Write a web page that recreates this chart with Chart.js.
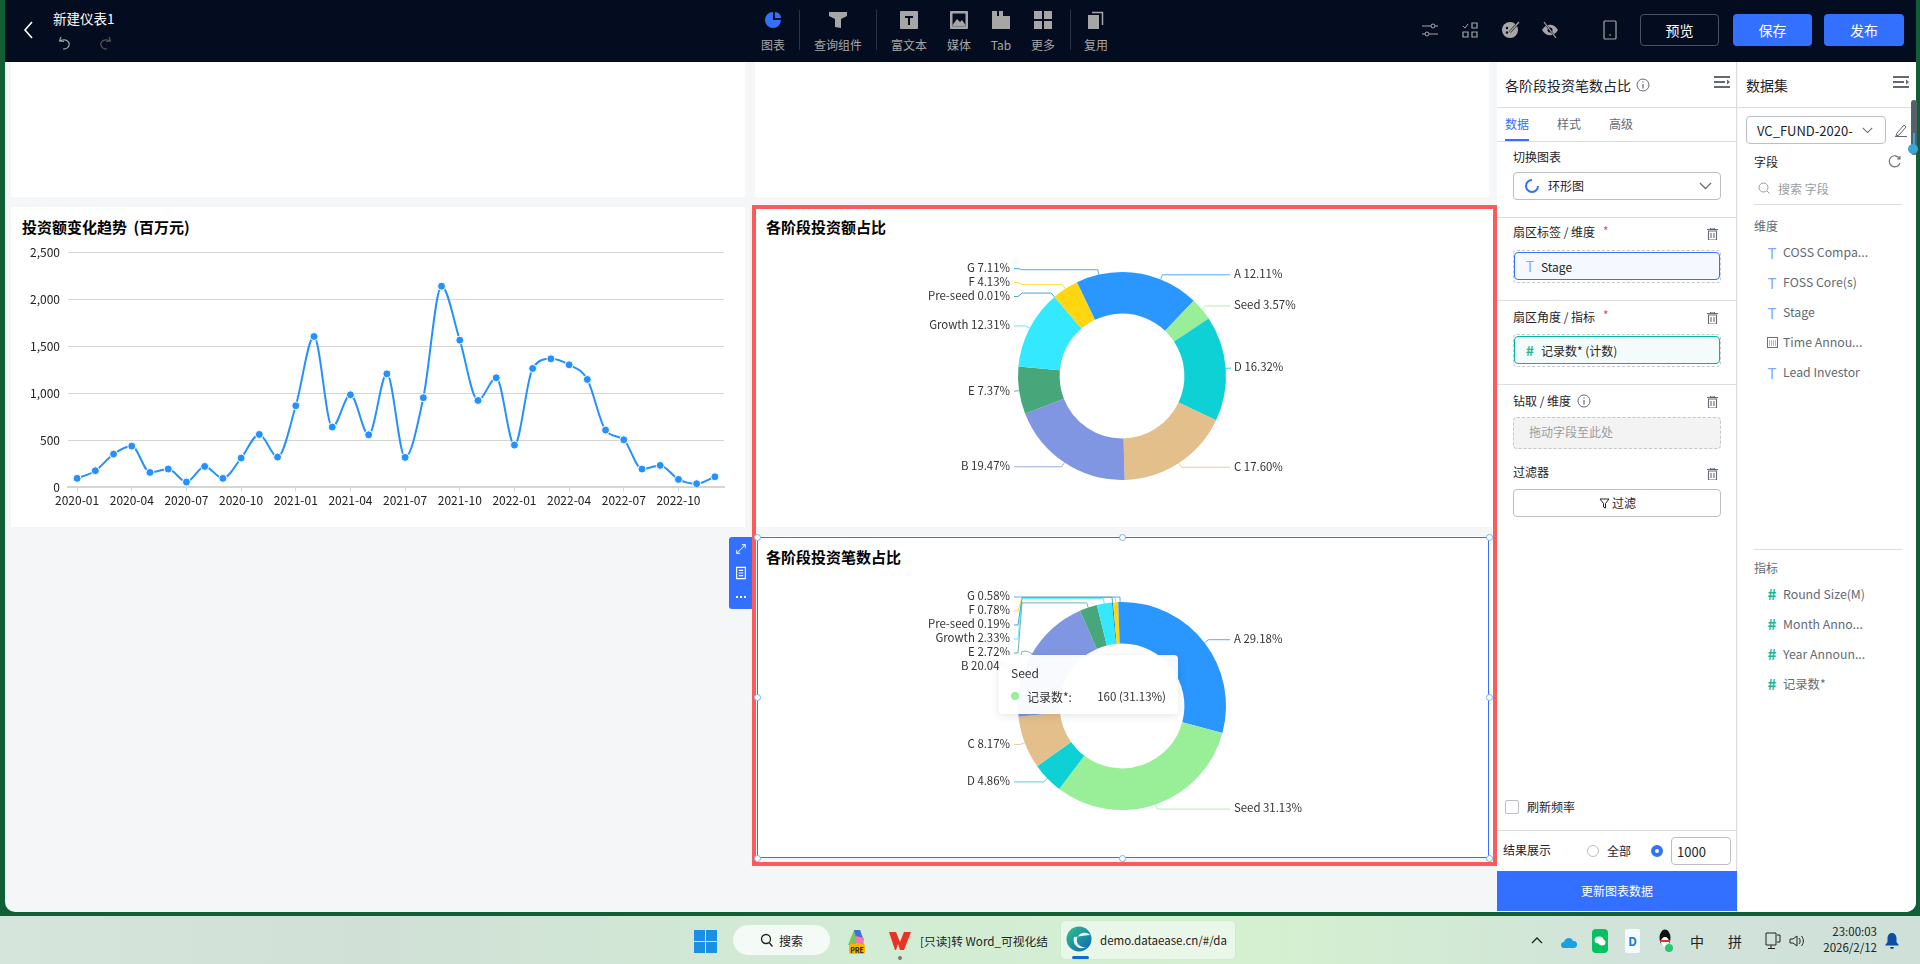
<!DOCTYPE html>
<html lang="zh-CN">
<head>
<meta charset="utf-8">
<title>新建仪表1</title>
<script src="https://cdn.jsdelivr.net/npm/chart.js@4"></script>
<style>
    html, body { margin: 0; padding: 0; background: #116035; }
    body { width: 1920px; height: 964px; overflow: hidden; position: relative; font-family: "Noto Sans CJK SC", "Noto Sans", sans-serif; color: #1f2329; }
    #page { position: absolute; left: 0; top: 0; width: 1920px; height: 964px; overflow: hidden; }
    #page div, #page span, #page svg { position: absolute; box-sizing: border-box; }
    #page span { white-space: nowrap; line-height: 1; }
    .holder canvas { display: block; }
</style>
</head>
<body>
<div id="page"></div>
<script>
// Data
const months = ['2020-01','2020-02','2020-03','2020-04','2020-05','2020-06','2020-07','2020-08','2020-09','2020-10','2020-11','2020-12',
    '2021-01','2021-02','2021-03','2021-04','2021-05','2021-06','2021-07','2021-08','2021-09','2021-10','2021-11','2021-12',
    '2022-01','2022-02','2022-03','2022-04','2022-05','2022-06','2022-07','2022-08','2022-09','2022-10','2022-11','2022-12'];
const investment = [96,177,354,439,159,195,57,223,96,312,563,322,
    868,1604,641,984,559,1207,319,953,2139,1565,924,1165,
    450,1264,1367,1303,1147,609,506,195,234,85,39,113];
const stages = ['A','Seed','D','C','B','E','Growth','Pre-seed','F','G'];
const amountShare = [12.11,3.57,16.32,17.60,19.47,7.37,12.31,0.01,4.13,7.11];
const dealCount = [150,160,25,42,103,14,12,1,4,3];
const stageColors = ['#2a96ff','#98ef98','#0ed1d6','#e3bf8b','#8096e2','#47a77a','#33e8ff','#1491dd','#ffd60f','#2a96ff'];
const lineColor = '#2491ff';

const page = document.getElementById('page');
Chart.defaults.font.family = '"Noto Sans CJK SC", "Noto Sans", sans-serif';
Chart.defaults.animation = false;

// Small layout helpers
const box = (x, y, w, h, style = '') => {
    const el = document.createElement('div');
    el.style.cssText = `left:${x}px;top:${y}px;width:${w}px;height:${h}px;${style}`;
    page.appendChild(el);
    return el;
};
const put = (x, y, text, style = '', anchor = 'left') => {
    const el = document.createElement('span');
    const shift = anchor === 'center' ? '-50%' : anchor === 'right' ? '-100%' : '0';
    el.style.cssText = `left:${x}px;top:${y}px;transform:translate(${shift},-50%);${style}`;
    el.textContent = text;
    page.appendChild(el);
    return el;
};
const icon = (cx, cy, w, h, inner, view = '0 0 16 16') => {
    const wrap = document.createElement('div');
    wrap.style.cssText = `left:${cx - w / 2}px;top:${cy - h / 2}px;width:${w}px;height:${h}px;`;
    wrap.innerHTML = `<svg xmlns="http://www.w3.org/2000/svg" width="${w}" height="${h}" viewBox="${view}" style="left:0;top:0">${inner}</svg>`;
    page.appendChild(wrap);
};

// Window
box(5, 0, 1911, 912, 'background:#f5f6f7;border-radius:0 0 10px 10px;overflow:hidden');

// Cards
box(11, 62, 734, 135, 'background:#fff');
box(755, 62, 734, 135, 'background:#fff');
box(11, 207, 734, 320, 'background:#fff');
box(756, 207, 737, 320, 'background:#fff');
box(756, 536, 737, 322, 'background:#fff');

const titleStyle = 'font-size:15px;font-weight:700;color:#000';
put(22, 225.500, '投资额变化趋势 (百万元)', titleStyle + ';word-spacing:3px');
put(766, 225.500, '各阶段投资额占比', titleStyle);
put(766, 555.500, '各阶段投资笔数占比', titleStyle);

// Canvases
const holder = (x, y, w, h) => {
    const el = box(x, y, w, h);
    el.className = 'holder';
    const canvas = document.createElement('canvas');
    el.appendChild(canvas);
    return canvas;
};

new Chart(holder(10, 236.600, 735, 290.400), {
    type: 'line',
    data: {
        labels: months,
        datasets: [{
            data: investment,
            borderColor: lineColor,
            backgroundColor: lineColor,
            borderWidth: 2,
            cubicInterpolationMode: 'monotone',
            pointRadius: 4,
            pointBorderColor: '#fff',
            pointBorderWidth: 1,
            pointBackgroundColor: lineColor
        }]
    },
    options: {
        responsive: true, maintainAspectRatio: false, events: [],
        layout: { padding: { top: 11.3, right: 21, left: 0, bottom: 0 } },
        plugins: { legend: { display: false }, tooltip: { enabled: false } },
        scales: {
            x: {
                offset: true,
                afterBuildTicks: (scale) => { scale.ticks = scale.ticks.filter((t, i) => i % 3 === 0); },
                afterFit: (scale) => { scale.height = 40; },
                grid: { drawOnChartArea: false, offset: false, tickLength: 4, color: '#d5d5d5' },
                border: { color: '#d5d5d5', width: 2 },
                ticks: { autoSkip: false, maxRotation: 0, color: '#222', padding: 2, font: { size: 12 } }
            },
            y: {
                min: 0, max: 2500,
                afterFit: (scale) => { scale.width = 58; },
                grid: { color: '#d5d5d5', drawTicks: false },
                border: { display: false },
                ticks: { stepSize: 500, color: '#222', padding: 8, font: { size: 12 }, callback: (v) => v.toLocaleString('en-US') }
            }
        }
    }
});

// Outside labels with elbow leaders, placed from the arcs the chart has laid out
const LABEL_STEP = 14;
const spreadLabels = (items, minY) => {
    items.sort((a, b) => a.y - b.y);
    let blocks = items.map((it) => ({ list: [it], top: it.y }));
    let merged = true;
    while (merged) {
        merged = false;
        for (let i = 0; i < blocks.length - 1; i++) {
            if (blocks[i].top + blocks[i].list.length * LABEL_STEP > blocks[i + 1].top) {
                const list = blocks[i].list.concat(blocks[i + 1].list);
                const top = list.reduce((s, it, k) => s + it.y - k * LABEL_STEP, 0) / list.length;
                blocks.splice(i, 2, { list, top: Math.max(minY, top) });
                merged = true;
                break;
            }
        }
    }
    blocks.forEach((b) => b.list.forEach((it, k) => { it.labelY = b.top + k * LABEL_STEP; }));
};

const donutLabels = {
    id: 'donutLabels',
    afterDatasetsDraw(chart) {
        const { ctx } = chart;
        const arcs = chart.getDatasetMeta(0).data;
        const values = chart.data.datasets[0].data;
        const total = values.reduce((a, b) => a + b, 0);
        const items = arcs.map((arc, i) => {
            const mid = (arc.startAngle + arc.endAngle) / 2;
            const c = Math.cos(mid), s = Math.sin(mid);
            const R = arc.outerRadius;
            return {
                i, right: c >= 0, cx: arc.x, cy: arc.y,
                ax: arc.x + R * c, ay: arc.y + R * s,
                x: arc.x + (R + 5) * c, y: arc.y + (R + 5) * s,
                minY: arc.y - R - 5, side: R
            };
        });
        spreadLabels(items.filter((it) => it.right), items[0].minY);
        spreadLabels(items.filter((it) => !it.right), items[0].minY);
        ctx.save();
        ctx.font = '11.4px "Noto Sans CJK SC"';
        ctx.textBaseline = 'middle';
        items.forEach((it) => {
            const dir = it.right ? 1 : -1;
            ctx.beginPath();
            ctx.moveTo(it.ax, it.ay);
            ctx.lineTo(it.x, it.y);
            if (dir * (it.x - it.cx) < it.side - 4) {
                ctx.lineTo(it.cx + dir * (it.side - 4), it.y);
                ctx.lineTo(it.cx + dir * it.side, it.labelY);
            }
            ctx.lineTo(it.cx + dir * (it.side + 4), it.labelY);
            ctx.globalAlpha = 0.8;
            ctx.strokeStyle = stageColors[it.i];
            ctx.lineWidth = 1;
            ctx.stroke();
            ctx.globalAlpha = 1;
            const pct = (values[it.i] / total * 100).toFixed(2);
            ctx.fillStyle = '#333';
            ctx.textAlign = it.right ? 'left' : 'right';
            ctx.fillText(`${stages[it.i]} ${pct}%`, it.cx + dir * (it.side + 8), it.labelY - 1);
        });
        ctx.restore();
    }
};

const donut = (canvas, values) => new Chart(canvas, {
    type: 'doughnut',
    data: {
        labels: stages,
        datasets: [{ data: values, backgroundColor: stageColors, borderWidth: 0 }]
    },
    options: {
        responsive: true, maintainAspectRatio: false, events: [],
        radius: 104, cutout: '60%',
        plugins: { legend: { display: false }, tooltip: { enabled: false } }
    },
    plugins: [donutLabels]
});
donut(holder(882, 238, 480, 276), amountShare);
donut(holder(882, 568, 480, 276), dealCount);

// Hover card on the second doughnut
box(999, 655, 179, 59, 'background:rgba(255,255,255,.95);border-radius:4px;box-shadow:0 2px 10px rgba(0,0,0,.1)');
put(1011, 673, stages[1], 'font-size:12px;color:#333');
box(1011, 692, 8, 8, `background:${stageColors[1]};border-radius:50%`);
put(1027, 697, '记录数*:', 'font-size:12px;color:#333');
const seedTotal = dealCount.reduce((a, b) => a + b, 0);
put(1166, 697, `${dealCount[1]} (${(dealCount[1] / seedTotal * 100).toFixed(2)}%)`, 'font-size:11.5px;color:#333', 'right');

// Selection frame
box(757, 537, 732, 321, 'border:1.5px solid #3370ff');
box(752, 205, 745, 661, 'border:4px solid #ff5a5a');
[[757, 537], [1122, 537], [1489, 537], [757, 697], [1489, 697], [757, 858], [1122, 858], [1489, 858]].forEach(([x, y]) => {
    box(x - 3.500, y - 3.500, 7, 7, 'background:#fff;border:1px solid #6fb4f0;border-radius:50%');
});

// Side toolbar of the selected card
box(729, 537, 23, 72, 'background:#3370ff;border-radius:3px 0 0 3px');
icon(740.500, 549, 14, 14, '<path d="M3 13 13 3M9 3h4v4M3 9v4h4" fill="none" stroke="#cfe0ff" stroke-width="1.2"/>');
icon(740.500, 573, 14, 16, '<path d="M3 1.500h10v13H3zM5.500 5h5M5.500 8h5M5.500 11h5" fill="none" stroke="#fff" stroke-width="1.3"/>');
[736, 740, 744].forEach((x) => box(x, 596, 2, 2, 'background:#fff'));

// Top bar
box(5, 0, 1911, 62, 'background:#040d20');
icon(28, 30, 12, 20, '<path d="M10 2 3 10l7 8" fill="none" stroke="#fff" stroke-width="1.6"/>', '0 0 12 20');
put(53, 19, '新建仪表1', 'font-size:13.500px;color:#fff');
icon(66, 43, 16, 16, '<path d="M3 2 1.500 6 6 6.500M2 6c6-3 11 1 8.500 5.500C9.500 13.500 7 14 5 14" fill="none" stroke="#a3a3a3" stroke-width="1.2"/>');
icon(104, 43, 16, 16, '<path d="M13 2l1.500 4L10 6.500M14 6c-6-3-11 1-8.500 5.500C6.500 13.500 9 14 11 14" fill="none" stroke="#555" stroke-width="1.2"/>');

const gray = '#a6a6a6';
icon(773, 20, 18, 18, '<path d="M9 1a8 8 0 1 0 8 8H9z" fill="#3370ff"/><path d="M11 1a6 6 0 0 1 6 6h-6z" fill="#3370ff"/>', '0 0 18 18');
icon(838, 20, 20, 18, `<path d="M1 1h18v4l-6 3v9l-6-1V8L1 5z" fill="${gray}"/>`, '0 0 20 18');
icon(909, 20, 18, 18, `<rect width="18" height="18" rx="1" fill="${gray}"/><path d="M5 5h8v2h-3v7H8V7H5z" fill="#040d20"/>`, '0 0 18 18');
icon(959, 20, 18, 18, `<rect width="18" height="18" rx="1" fill="${gray}"/><path d="M2.500 2.500h13v13h-13z" fill="#040d20"/><path d="M2.500 14 7 8l3 3 2-2 3.500 5v1.500h-13z" fill="${gray}"/>`, '0 0 18 18');
icon(1001, 20, 18, 18, `<path d="M0 0h5v5h2V0h4v5h7v13H0z" fill="${gray}"/>`, '0 0 18 18');
icon(1043, 20, 18, 18, `<path d="M0 0h8v8H0zM10 0h8v8h-8zM0 10h8v8H0zM10 10h8v8h-8z" fill="${gray}"/>`, '0 0 18 18');
icon(1096, 20, 16, 18, `<path d="M0 4h11v14H0z" fill="${gray}"/><path d="M4 1.500h10.500V14" fill="none" stroke="${gray}" stroke-width="1.500"/>`, '0 0 16 18');
[799, 876, 1070].forEach((x) => box(x, 10, 1, 40, 'background:#2b3344'));
[['图表', 773], ['查询组件', 838], ['富文本', 909], ['媒体', 959], ['Tab', 1001], ['更多', 1043], ['复用', 1096]].forEach(([t, x]) => {
    put(x, 45, t, `font-size:12px;color:${gray}`, 'center');
});
icon(1430, 30, 16, 16, `<path d="M0 4h9M13 4h3M0 12h3M7 12h9" stroke="${gray}" fill="none"/><circle cx="11" cy="4" r="2" fill="none" stroke="${gray}"/><circle cx="5" cy="12" r="2" fill="none" stroke="${gray}"/>`);
icon(1470, 30, 16, 16, `<path d="M1 4l2 2 3-4" fill="none" stroke="${gray}"/><path d="M10 1h5v5h-5zM1 10h5v5H1zM10 10h5v5h-5z" fill="none" stroke="${gray}" stroke-width="1.200"/>`);
icon(1511, 30, 18, 18, `<circle cx="8" cy="9" r="8" fill="${gray}"/><circle cx="5" cy="7" r="1.200" fill="#040d20"/><circle cx="5" cy="11.500" r="1.200" fill="#040d20"/><path d="M17 1 8 11" stroke="#040d20" stroke-width="2.500"/><path d="M17 1 8 11" stroke="${gray}" stroke-width="1.200"/>`, '0 0 18 18');
icon(1550, 30, 18, 18, `<path d="M1 9c4-7 12-7 16 0-4 7-12 7-16 0z" fill="${gray}"/><circle cx="9" cy="9" r="2.500" fill="#040d20"/><path d="M3 1l12 16" stroke="#040d20" stroke-width="2"/><path d="M3 1l12 16" stroke="${gray}" stroke-width="1.200"/>`, '0 0 18 18');
icon(1610, 30, 14, 20, `<rect x="1" y="1" width="12" height="18" rx="1" fill="none" stroke="${gray}" stroke-width="1.200"/><path d="M7 14v2" stroke="${gray}"/>`, '0 0 14 20');
box(1640, 14, 79, 32, 'border:1px solid #4a5160;border-radius:4px');
put(1679.500, 30, '预览', 'font-size:14px;color:#fff', 'center');
box(1733, 14, 79, 32, 'background:#3370ff;border-radius:4px');
put(1772.500, 30, '保存', 'font-size:14px;color:#fff', 'center');
box(1824, 14, 80, 32, 'background:#3370ff;border-radius:4px');
put(1864, 30, '发布', 'font-size:14px;color:#fff', 'center');

// Chart settings panel
const ink = '#1f2329', soft = '#646a73', rule = '#dcdcdc';
box(1497, 62, 240, 850, 'background:#fff;border-right:1px solid #dcdcdc');
box(1738, 62, 178, 850, 'background:#fff;border-radius:0 0 10px 0');
box(1497, 107, 419, 1, `background:${rule}`);
const menuIcon = (cx) => icon(cx, 82, 16, 12, `<path d="M0 1h16M0 6h11M0 11h16" stroke="${soft}" stroke-width="2"/><path d="M16 6l-3-2.500v5z" fill="${soft}"/>`, '0 0 16 12');
const trash = (y) => icon(1712, y, 11, 12, `<path d="M0 1.500h11M1.500 3h8v9h-8zM4 5v5M7 5v5M3.500 1.500V0h4v1.500" fill="none" stroke="${soft}" stroke-width="1.100"/>`, '0 0 11 12');
const info = (cx, cy) => icon(cx, cy, 14, 14, `<circle cx="7" cy="7" r="6" fill="none" stroke="${soft}"/><path d="M7 3.500v1M7 6v4.500" stroke="${soft}" stroke-width="1.200"/>`, '0 0 14 14');
put(1505, 85, '各阶段投资笔数占比', `font-size:14px;color:${ink}`);
info(1643, 85);
menuIcon(1722);
put(1746, 85, '数据集', `font-size:14px;color:${ink}`);
menuIcon(1901);
put(1505, 124, '数据', 'font-size:12px;color:#3370ff');
put(1557, 124, '样式', `font-size:12px;color:${soft}`);
put(1609, 124, '高级', `font-size:12px;color:${soft}`);
box(1497, 141, 240, 1, `background:${rule}`);
box(1505, 139, 24, 2, 'background:#3370ff');

put(1513, 157, '切换图表', `font-size:12px;color:${ink}`);
box(1513, 172, 208, 28, 'border:1px solid #bbbfc4;border-radius:4px;background:#fff');
icon(1532, 186, 14, 14, '<path d="M7 1a6 6 0 1 0 6 6" fill="none" stroke="#3370ff" stroke-width="2"/>', '0 0 14 14');
put(1548, 186, '环形图', `font-size:12px;color:${ink}`);
const chevron = (cx, cy, w, color) => icon(cx, cy, w, w / 2 + 1, `<path d="M1 1l6 6 6-6" fill="none" stroke="${color}" stroke-width="1.300"/>`, '0 0 14 8');
chevron(1705, 186, 13, soft);

box(1497, 217, 240, 1, `background:${rule}`);
put(1513, 232, '扇区标签 / 维度', `font-size:12px;color:${ink}`);
put(1603, 231, '*', 'font-size:12px;color:#f54a45');
trash(234);
box(1513, 250, 208, 33, 'border:1px dashed #c4c7cc;border-radius:4px');
box(1514, 252, 206, 28, 'border:1px solid #3370ff;border-radius:4px;background:#f5f8ff');
put(1530, 266, 'T', 'font-size:14px;color:#3370ff;opacity:.6', 'center');
put(1541, 267, 'Stage', `font-size:12px;color:${ink}`);

box(1497, 300, 240, 1, `background:${rule}`);
put(1513, 317, '扇区角度 / 指标', `font-size:12px;color:${ink}`);
put(1603, 315, '*', 'font-size:12px;color:#f54a45');
trash(318);
box(1513, 334, 208, 33, 'border:1px dashed #c4c7cc;border-radius:4px');
box(1514, 336, 206, 28, 'border:1px solid #00b89a;border-radius:4px;background:#f3fcfa');
put(1530, 350, '#', 'font-size:14px;font-weight:700;color:#17b897', 'center');
put(1541, 351, '记录数* (计数)', `font-size:12px;color:${ink}`);

box(1497, 384, 240, 1, `background:${rule}`);
put(1513, 401, '钻取 / 维度', `font-size:12px;color:${ink}`);
info(1584, 401);
trash(402);
box(1513, 417, 208, 32, 'border:1px dashed #c4c7cc;border-radius:4px;background:#f3f3f3');
put(1529, 432, '拖动字段至此处', 'font-size:12px;color:#9a9da1');
put(1513, 472, '过滤器', `font-size:12px;color:${ink}`);
trash(474);
box(1513, 489, 208, 28, 'border:1px solid #bbbfc4;border-radius:4px;background:#fff');
icon(1604, 503, 11, 11, `<path d="M1 1h9L6.500 5.500V10L4.500 9V5.500z" fill="none" stroke="${ink}"/>`, '0 0 11 11');
put(1612, 503, '过滤', `font-size:12px;color:${ink}`);

box(1505, 800, 14, 14, 'border:1px solid #bbbfc4;border-radius:2px;background:#fff');
put(1527, 807, '刷新频率', `font-size:12px;color:${ink}`);
box(1497, 830, 240, 1, `background:${rule}`);
put(1503, 850, '结果展示', `font-size:12px;color:${ink}`);
box(1587, 845, 12, 12, 'border:1px solid #bbbfc4;border-radius:50%;background:#fff');
put(1607, 851, '全部', `font-size:12px;color:${ink}`);
box(1651, 845, 12, 12, 'border:4px solid #3370ff;border-radius:50%;background:#fff');
box(1671, 837, 60, 28, 'border:1px solid #bbbfc4;border-radius:4px;background:#fff');
put(1677, 851, '1000', `font-size:13px;color:${ink}`);
box(1497, 871, 240, 40, 'background:#3370ff');
put(1617, 891, '更新图表数据', 'font-size:12px;color:#fff', 'center');

// Dataset panel
box(1746, 116, 140, 28, 'border:1px solid #bbbfc4;border-radius:4px;background:#fff');
put(1757, 130, 'VC_FUND-2020-', `font-size:13px;color:${ink}`);
chevron(1867, 130, 11, soft);
icon(1901, 130, 14, 14, `<path d="M3 10l7-8 2 2-7 8-3 1zM1 13.500h12" fill="none" stroke="${soft}"/>`, '0 0 14 14');
put(1754, 162, '字段', `font-size:12px;color:${ink}`);
icon(1894, 161, 13, 13, `<path d="M11.500 3.500A5.500 5.500 0 1 0 12 8M12 1v3H9" fill="none" stroke="${soft}" stroke-width="1.100"/>`, '0 0 13 13');
icon(1764, 188, 12, 12, '<circle cx="5.500" cy="5.500" r="4.500" fill="none" stroke="#9a9da1"/><path d="M9 9l2.500 2.500" stroke="#9a9da1"/>', '0 0 12 12');
put(1778, 189, '搜索 字段', 'font-size:12px;color:#9a9da1');
box(1754, 204, 148, 1, `background:${rule}`);
put(1754, 226, '维度', `font-size:12px;color:${soft}`);
const dimensionFields = ['COSS Compa...', 'FOSS Core(s)', 'Stage', 'Time Annou...', 'Lead Investor'];
dimensionFields.forEach((name, i) => {
    const y = 252 + i * 30;
    if (i === 3) {
        icon(1772, y, 11, 11, '<rect x=".5" y=".5" width="10" height="10" fill="none" stroke="#3370ff"/><path d="M2 4h7M2 6h7M2 8h7" stroke="#3370ff" stroke-dasharray="1 1"/>', '0 0 11 11');
    } else {
        put(1772, y, 'T', 'font-size:15px;color:#3370ff;opacity:.6', 'center');
    }
    put(1783, y, name, `font-size:12.300px;color:${soft}`);
});
box(1754, 549, 148, 1, `background:${rule}`);
put(1754, 568, '指标', `font-size:12px;color:${soft}`);
const measureFields = ['Round Size(M)', 'Month Anno...', 'Year Announ...', '记录数*'];
measureFields.forEach((name, i) => {
    const y = 594 + i * 30;
    put(1772, y - 1, '#', 'font-size:15px;font-weight:700;color:#17b897', 'center');
    put(1783, y, name, `font-size:12.300px;color:${soft}`);
});

// Scroll marker at the window edge
box(1911, 100, 6, 55, 'background:#56606b;border-radius:3px');
box(1912.500, 133, 2, 15, 'background:#3aa6d8');
box(1908, 144, 10, 10, 'background:#3aa6d8;border-radius:50%');

// Task bar
box(0, 916, 1920, 48, 'background:linear-gradient(90deg,#d6e5dc 0%,#d0e0d6 20%,#d2ecd5 45%,#d4f0d0 66%,#d1e3da 85%,#cfe0d8 100%)');
icon(705.500, 941, 23, 23, '<path d="M0 0h11v11H0zM12 0h11v11H12zM0 12h11v11H0zM12 12h11v11H12z" fill="#1a8fe3"/>', '0 0 23 23');
box(733, 925, 97, 30, 'background:#f4faf5;border-radius:15px');
icon(767, 940, 14, 14, '<circle cx="6" cy="6" r="4.500" fill="none" stroke="#222" stroke-width="1.300"/><path d="M9 9.500l3.500 4" stroke="#222" stroke-width="1.300"/>', '0 0 14 14');
put(779, 941, '搜索', 'font-size:12px;color:#222');
icon(856, 938, 22, 22, '<path d="M3 18 9 3h6l4 15-6-2-4 2z" fill="#7ac65c"/><path d="M9 3h6l4 11-8-4z" fill="#3f6fe0"/><path d="M11 9l8 2-1 7-7-2z" fill="#ee7bb5"/>', '0 0 22 22');
box(849, 944, 16, 10, 'background:#f7b500;border-radius:2px');
put(857, 949.500, 'PRE', 'font-size:7px;font-weight:700;color:#222', 'center');
icon(900, 941, 24, 22, '<path d="M1 2h7l4 10 4-10h7l-7 18h-4l-2-6-2 6H7z" fill="#e93224"/>', '0 0 24 22');
box(898, 956, 4, 4, 'background:#777;border-radius:50%');
put(920, 941, '[只读]转 Word_可视化结', 'font-size:11.700px;color:#222');
box(1061, 921, 174, 38, 'background:rgba(255,255,255,.5);border-radius:4px;box-shadow:0 0 1px rgba(0,0,0,.2)');
icon(1079, 939, 26, 26, '<defs><linearGradient id="edge" x1="0" y1="0" x2="1" y2="1"><stop offset="0" stop-color="#33c27f"/><stop offset="1" stop-color="#0b63c5"/></linearGradient></defs><circle cx="13" cy="13" r="12.500" fill="url(#edge)"/><path d="M24 9C21 5 12 6 11 13c-1 5 4 9 9 8-8 4-14-3-12-10" fill="#e6f3e8"/>', '0 0 26 26');
box(1072, 956, 17, 3, 'background:#0b6cd4;border-radius:2px');
put(1100, 941, 'demo.dataease.cn/#/da', 'font-size:11.500px;color:#222');
icon(1537, 940, 12, 8, '<path d="M1 7l5-5 5 5" fill="none" stroke="#222" stroke-width="1.300"/>', '0 0 12 8');
icon(1569, 942, 16, 12, '<path d="M3 12a3 3 0 0 1 0-6c1-4 7-6 9-1a3.500 3.500 0 0 1 1 7z" fill="#1b9fe0"/>', '0 0 16 12');
box(1592, 929, 16, 24, 'background:#07c160;border-radius:4px');
icon(1600, 941, 12, 10, '<ellipse cx="5" cy="4" rx="4.500" ry="3.500" fill="#fff"/><ellipse cx="8" cy="6.500" rx="3.500" ry="3" fill="#fff"/>', '0 0 12 10');
box(1625, 929, 15, 24, 'background:#f3fbff;border-radius:2px');
put(1632.500, 941, 'D', 'font-size:12px;font-weight:700;color:#1677e5', 'center');
icon(1666, 941, 14, 24, '<ellipse cx="6" cy="9" rx="5.500" ry="8.500" fill="#111"/><ellipse cx="6" cy="13" rx="4" ry="5" fill="#fff"/><path d="M1 11h10v2H1z" fill="#d9342b"/><circle cx="10" cy="19" r="4" fill="#28c76f"/>', '0 0 14 24');
put(1697, 941, '中', 'font-size:14px;color:#222', 'center');
put(1735, 941, '拼', 'font-size:14px;color:#222', 'center');
icon(1773, 941, 16, 18, '<path d="M1 1h10v12H1zM6 13v3M3 16.500h7M12 3h3v7h-3" fill="none" stroke="#222"/>', '0 0 16 18');
icon(1797, 941, 16, 14, '<path d="M1 5h3l4-3v10L4 9H1zM10 4c1.500 1.500 1.500 4.500 0 6M12.500 2c2.500 3 2.500 7 0 10" fill="none" stroke="#222"/>', '0 0 16 14');
put(1877, 932, '23:00:03', 'font-size:11.500px;color:#222', 'right');
put(1877, 948, '2026/2/12', 'font-size:11.500px;color:#222', 'right');
icon(1892, 941, 14, 16, '<path d="M7 0c3 0 4.500 2.500 4.500 5.500V9L14 12.500H0L2.500 9V5.500C2.500 2.500 4 0 7 0zM5 14h4a2 2 0 0 1-4 0z" fill="#0b4ea2"/>', '0 0 14 16');
</script>
</body>
</html>
